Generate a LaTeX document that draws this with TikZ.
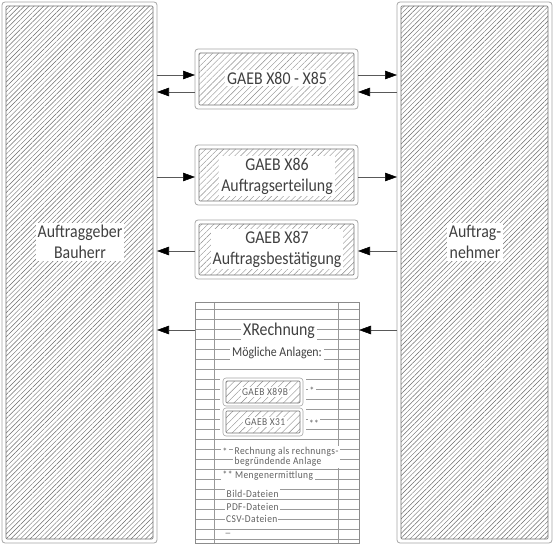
\documentclass[tikz,border=0pt]{standalone}
\usepackage{fontspec}
\setmainfont[FakeStretch=0.88]{Carlito}
\newfontfamily\smallfont[FakeStretch=0.9,LetterSpace=4]{Carlito}
\usetikzlibrary{arrows.meta,patterns.meta}
\tikzset{
  outerbox/.style={draw=black!35, line width=0.8pt, rounded corners=3pt, fill=white, inner sep=0pt, outer sep=0pt},
  hatchbig/.style={draw=black!55, line width=0.6pt, rounded corners=1pt, inner sep=0pt,
    pattern={Lines[angle=45,distance=3.4pt,line width=0.45pt]}, pattern color=black!58},
  hatchmid/.style={draw=black!55, line width=0.6pt, rounded corners=1pt, inner sep=0pt,
    pattern={Lines[angle=45,distance=4.2pt,line width=0.4pt]}, pattern color=black!45},
  hatchsmall/.style={hatchmid, pattern={Lines[angle=45,distance=5pt,line width=0.4pt]}},
  lbl/.style={fill=white, text=black!75, inner sep=2pt, align=center, font=\fontsize{18}{21}\selectfont},
  small/.style={fill=white, text=black!62, inner sep=1.5pt, font=\smallfont\fontsize{10.5}{10.5}\selectfont},
  arr/.style={draw=black!65, line width=0.6pt, -{Triangle[length=12pt,width=8.5pt,color=black]}},
  rule/.style={draw=black!40, line width=0.5pt},
  gap/.style={fill=white, inner sep=0pt, minimum width=86pt, minimum height=30pt},
}
\begin{document}
\begin{tikzpicture}[x=1pt,y=-1pt]
\useasboundingbox (0,0) rectangle (554,545);
% big boxes
\node[outerbox, minimum width=155pt, minimum height=541pt] (L) at (79.5,272.5) {};
\node[hatchbig, minimum width=147pt, minimum height=533pt] (Li) at (L.center) {};
\node[lbl] (Lt) at (80,242) {Auftraggeber\\Bauherr};
\node[outerbox, minimum width=155pt, minimum height=541pt] (R) at (474.5,272.5) {};
\node[hatchbig, minimum width=147pt, minimum height=533pt] (Ri) at (R.center) {};
\node[lbl] (Rt) at (475,242) {Auftrag-\\nehmer};
% box 1
\node[outerbox, minimum width=163pt, minimum height=60pt] (B1) at (276.5,79) {};
\node[hatchmid, minimum width=155pt, minimum height=52pt] (B1i) at (B1.center) {};
\node[lbl] (B1t) at (277,78) {GAEB X80 - X85};
% box 2
\node[outerbox, minimum width=163pt, minimum height=60pt] (B2) at (276.5,175) {};
\node[hatchmid, minimum width=155pt, minimum height=52pt] (B2i) at (B2.center) {};
\node[lbl] (B2t) at (277,176) {GAEB X86\\Auftragserteilung};
% box 3
\node[outerbox, minimum width=163pt, minimum height=59pt] (B3) at (276.5,249.5) {};
\node[hatchmid, minimum width=155pt, minimum height=51pt] (B3i) at (B3.center) {};
\node[lbl] (B3t) at (277,249) {GAEB X87\\Auftragsbestätigung};
% XRechnung sheet
\node[draw=black!45, line width=0.6pt, fill=white, minimum width=164pt, minimum height=241pt, inner sep=0pt, outer sep=0pt] (X) at (277,422.5) {};
\foreach \yy in {309,319,...,539} \draw[rule] (195,\yy) -- (359,\yy);
\draw[rule] (214,302) -- (214,543);
\draw[rule] (338,302) -- (338,543);
\node[draw=black!45, line width=0.6pt, inner sep=0pt, minimum width=164pt, minimum height=241pt] at (X.center) {};
\node[lbl] (Xt) at (279,331) {XRechnung};
\node[lbl, font=\fontsize{13.5}{16}\selectfont, inner sep=2.5pt] (Mt) at (277,353) {Mögliche Anlagen:};
% small boxes
\node[gap] at (263,392) {};
\node[gap] at (263,422) {};
\node[outerbox, line width=0.6pt, minimum width=80pt, minimum height=28pt] (S1) at (263,392) {};
\node[hatchsmall, minimum width=74pt, minimum height=22pt] (S1i) at (S1.center) {};
\node[small] (S1t) at (265,392) {GAEB X89B};
\node[small] (S1s) at (312,391) {*};
\node[outerbox, line width=0.6pt, minimum width=80pt, minimum height=28pt] (S2) at (263,422) {};
\node[hatchsmall, minimum width=74pt, minimum height=22pt] (S2i) at (S2.center) {};
\node[small] (S2t) at (265,422) {GAEB X31};
\node[small] (S2s) at (314,424) {**};
% footnotes
\node[small, anchor=base west] (F0) at (221,455.5) {*};
\node[small, anchor=west, align=left] (F1) at (233,457) {Rechnung als rechnungs-\\begründende Anlage};
\node[small, anchor=west] (F2) at (221,476) {** Mengenermittlung};
\node[small, anchor=west, minimum width=52pt] (D1) at (225,494) {Bild-Dateien\hfill};
\node[small, anchor=west] (D2) at (225,507) {PDF-Dateien};
\node[small, anchor=west, inner sep=1pt] (D3) at (225,519) {CSV-Dateien};
\node[small, anchor=west, inner sep=0.5pt] (D4) at (225,533.5) {\_};
% arrow levels
\coordinate (y1a) at (0,75);
\coordinate (y1b) at (0,92);
\coordinate (y2) at (0,177);
\coordinate (y3) at (0,251);
\coordinate (y4) at (0,330);
\draw[arr] (L.east |- y1a) -- (B1.west |- y1a);
\draw[arr] (B1.west |- y1b) -- (L.east |- y1b);
\draw[arr] (B1.east |- y1a) -- (R.west |- y1a);
\draw[arr] (R.west |- y1b) -- (B1.east |- y1b);
\draw[arr] (L.east |- y2) -- (B2.west |- y2);
\draw[arr] (B2.east |- y2) -- (R.west |- y2);
\draw[arr] (B3.west |- y3) -- (L.east |- y3);
\draw[arr] (R.west |- y3) -- (B3.east |- y3);
\draw[arr] (X.west |- y4) -- (L.east |- y4);
\draw[arr] (R.west |- y4) -- (X.east |- y4);
\end{tikzpicture}
\end{document}
